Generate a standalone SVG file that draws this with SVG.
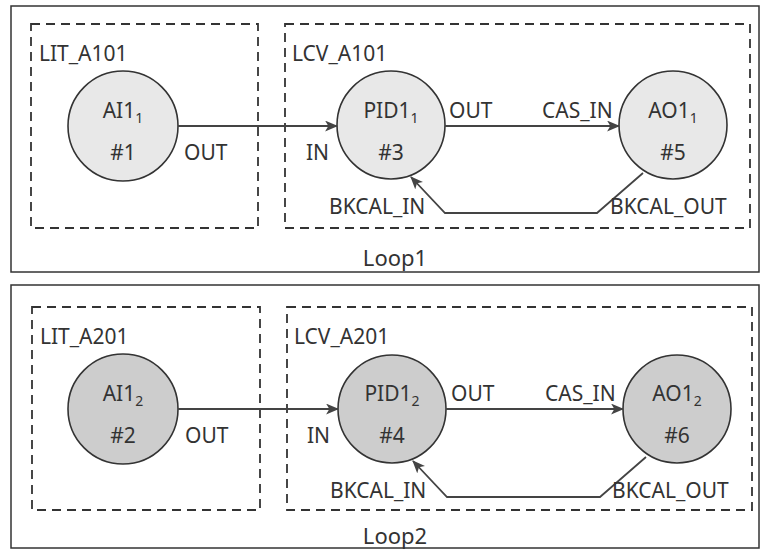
<svg xmlns="http://www.w3.org/2000/svg" width="761" height="550" viewBox="0 0 761 550">
<defs>
<marker id="arr" viewBox="0 0 12 10" refX="11" refY="5" markerWidth="13" markerHeight="11" markerUnits="userSpaceOnUse" orient="auto">
<path d="M0,0 L12,5 L0,10 L3,5 Z" fill="#444"/>
</marker>
</defs>
<style>
.outer{fill:none;stroke:#333;stroke-width:1.5}
.dash{fill:none;stroke:#333;stroke-width:1.8;stroke-dasharray:9,6}
.c1{fill:#e8e8e8;stroke:#333;stroke-width:1.6}
.c2{fill:#cdcdcd;stroke:#333;stroke-width:1.6}
.t{font-family:"Noto Sans","Open Sans",sans-serif;font-size:21px;fill:#333}
.m{text-anchor:middle}
.s{font-size:14px}
.lp{font-size:22px}
.ln{fill:none;stroke:#444;stroke-width:1.8}
</style>
<rect x="0" y="0" width="761" height="550" fill="#fff"/>
<g id="loop1">
<rect class="outer" x="11" y="6" width="748" height="266"/>
<text class="t m lp" x="395" y="266">Loop1</text>
</g>
<g id="lit_a101">
<rect class="dash" x="31" y="24" width="227" height="204"/>
<text class="t" x="39" y="61">LIT_A101</text>
</g>
<g id="lcv_a101">
<rect class="dash" x="285" y="24" width="465" height="204"/>
<text class="t" x="292" y="61">LCV_A101</text>
</g>
<g id="ai1_1">
<circle class="c1" cx="123" cy="126" r="55"/>
<text class="t m" x="123" y="118">AI1<tspan class="s" dy="5">1</tspan></text>
<text class="t m" x="123" y="160">#1</text>
</g>
<g id="pid1_1">
<circle class="c1" cx="391" cy="125" r="54"/>
<text class="t m" x="391" y="118">PID1<tspan class="s" dy="5">1</tspan></text>
<text class="t m" x="391" y="160">#3</text>
</g>
<g id="ao1_1">
<circle class="c1" cx="673" cy="125" r="54"/>
<text class="t m" x="673" y="118">AO1<tspan class="s" dy="5">1</tspan></text>
<text class="t m" x="673" y="160">#5</text>
</g>
<g id="loop2">
<rect class="outer" x="11" y="285" width="748" height="263"/>
<text class="t m lp" x="395" y="544">Loop2</text>
</g>
<g id="lit_a201">
<rect class="dash" x="32" y="307" width="228" height="203"/>
<text class="t" x="40" y="344">LIT_A201</text>
</g>
<g id="lcv_a201">
<rect class="dash" x="287" y="307" width="465" height="203"/>
<text class="t" x="294" y="344">LCV_A201</text>
</g>
<g id="ai1_2">
<circle class="c2" cx="123" cy="409" r="55"/>
<text class="t m" x="123" y="401">AI1<tspan class="s" dy="5">2</tspan></text>
<text class="t m" x="123" y="443">#2</text>
</g>
<g id="pid1_2">
<circle class="c2" cx="392" cy="409" r="54"/>
<text class="t m" x="392" y="401">PID1<tspan class="s" dy="5">2</tspan></text>
<text class="t m" x="392" y="443">#4</text>
</g>
<g id="ao1_2">
<circle class="c2" cx="677" cy="409" r="54"/>
<text class="t m" x="677" y="401">AO1<tspan class="s" dy="5">2</tspan></text>
<text class="t m" x="677" y="443">#6</text>
</g>
<g id="connectors">
<line class="ln" x1="178" y1="126" x2="337" y2="126" marker-end="url(#arr)"/>
<line class="ln" x1="445" y1="126" x2="619" y2="126" marker-end="url(#arr)"/>
<polyline class="ln" points="643,173 597,213 445,213 411,177" marker-end="url(#arr)"/>
<line class="ln" x1="178" y1="409" x2="338" y2="409" marker-end="url(#arr)"/>
<line class="ln" x1="446" y1="409" x2="623" y2="409" marker-end="url(#arr)"/>
<polyline class="ln" points="646,457 600,497 447,497 413,461" marker-end="url(#arr)"/>
<text class="t" x="184" y="160">OUT</text>
<text class="t" x="306" y="160">IN</text>
<text class="t" x="449" y="118">OUT</text>
<text class="t" x="542" y="118">CAS_IN</text>
<text class="t" x="329" y="214">BKCAL_IN</text>
<text class="t" x="610" y="214">BKCAL_OUT</text>
<text class="t" x="185" y="443">OUT</text>
<text class="t" x="307" y="443">IN</text>
<text class="t" x="451" y="401">OUT</text>
<text class="t" x="545" y="401">CAS_IN</text>
<text class="t" x="330" y="498">BKCAL_IN</text>
<text class="t" x="612" y="498">BKCAL_OUT</text>
</g>
</svg>
